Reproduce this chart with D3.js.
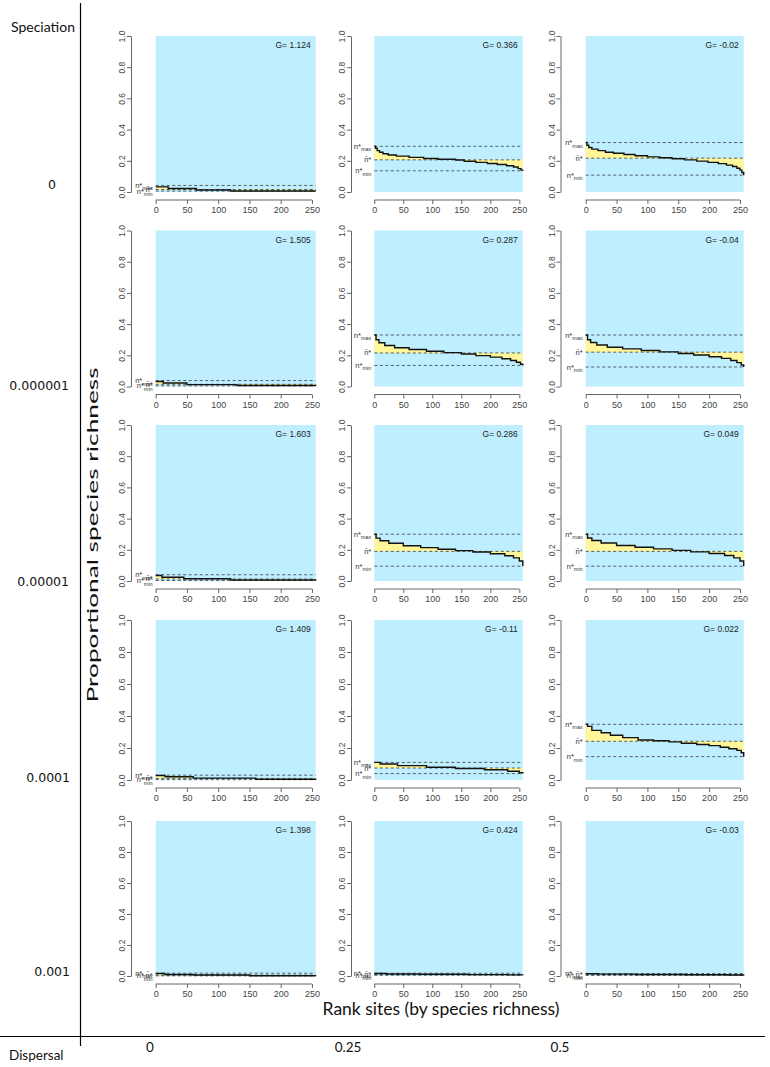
<!DOCTYPE html>
<html><head><meta charset="utf-8">
<script src="https://cdn.jsdelivr.net/npm/d3@7"></script>
<style>body{margin:0;background:#fff}</style></head><body>
<svg id="c" width="770" height="1067"></svg>
<script>
// ---------- data ----------
const speciationLabels = ["0","0.000001","0.00001","0.0001","0.001"];
const dispersalLabels = ["0","0.25","0.5"];
const gValues = ["1.124","0.366","-0.02","1.505","0.287","-0.04","1.603","0.286","0.049","1.409","-0.11","0.022","1.398","0.424","-0.03"];
const maxVals  = [0.042,0.293,0.317, 0.038,0.330,0.330, 0.040,0.300,0.300, 0.030,0.110,0.348, 0.018,0.018,0.016];
const meanVals = [0.016,0.206,0.217, 0.014,0.215,0.220, 0.013,0.190,0.190, 0.010,0.075,0.242, 0.006,0.010,0.009];
const minVals  = [0.006,0.136,0.108, 0.004,0.135,0.125, 0.003,0.095,0.095, 0.002,0.040,0.146, 0.001,0.005,0.004];
// step curves: [rank where level starts, proportional richness]
const curves = [
  [[0,0.033],[20,0.022],[65,0.013],[120,0.006],[256,0.006]],
  [[0,0.293],[2,0.28],[5,0.265],[9,0.255],[15,0.245],[24,0.237],[38,0.23],[60,0.222],[85,0.215],[110,0.21],[140,0.205],[155,0.197],[175,0.19],[195,0.183],[212,0.176],[228,0.168],[240,0.16],[248,0.15],[253,0.14],[256,0.136]],
  [[0,0.317],[2,0.3],[5,0.285],[10,0.275],[20,0.265],[32,0.255],[45,0.248],[62,0.24],[80,0.232],[100,0.225],[120,0.22],[140,0.213],[160,0.206],[180,0.198],[198,0.19],[215,0.182],[228,0.172],[238,0.163],[245,0.152],[250,0.14],[253,0.125],[256,0.108]],
  [[0,0.032],[12,0.022],[50,0.012],[130,0.006],[256,0.004]],
  [[0,0.33],[3,0.3],[8,0.28],[18,0.263],[35,0.248],[60,0.237],[90,0.226],[120,0.217],[150,0.208],[175,0.198],[200,0.188],[220,0.178],[235,0.167],[245,0.155],[252,0.143],[256,0.135]],
  [[0,0.33],[3,0.3],[8,0.282],[18,0.266],[35,0.252],[60,0.241],[90,0.231],[120,0.222],[150,0.212],[175,0.202],[200,0.191],[220,0.18],[235,0.167],[245,0.153],[252,0.138],[256,0.125]],
  [[0,0.035],[10,0.024],[45,0.014],[120,0.006],[256,0.003]],
  [[0,0.3],[3,0.275],[10,0.258],[25,0.242],[50,0.226],[80,0.214],[110,0.204],[140,0.195],[170,0.186],[200,0.175],[225,0.162],[240,0.148],[250,0.128],[256,0.095]],
  [[0,0.3],[3,0.276],[10,0.26],[25,0.244],[50,0.228],[80,0.216],[110,0.206],[140,0.196],[170,0.187],[200,0.176],[225,0.163],[240,0.148],[250,0.128],[256,0.095]],
  [[0,0.028],[15,0.02],[60,0.012],[160,0.005],[256,0.002]],
  [[0,0.11],[10,0.1],[40,0.09],[90,0.08],[140,0.072],[190,0.064],[230,0.055],[250,0.045],[256,0.04]],
  [[0,0.348],[3,0.335],[10,0.31],[25,0.295],[40,0.28],[60,0.265],[85,0.25],[110,0.245],[135,0.238],[155,0.23],[180,0.222],[200,0.215],[218,0.205],[232,0.195],[245,0.185],[252,0.17],[256,0.146]],
  [[0,0.016],[15,0.01],[60,0.006],[150,0.002],[256,0.001]],
  [[0,0.016],[20,0.013],[80,0.011],[160,0.009],[230,0.007],[256,0.005]],
  [[0,0.015],[20,0.012],[80,0.01],[160,0.008],[230,0.006],[256,0.004]]
];
const yTicks = [0,0.2,0.4,0.6,0.8,1.0];
const xTicks = [0,50,100,150,200,250];
const nSites = 256;

// ---------- layout ----------
const cols = [{axis:131,x0:155.7,x1:315.7},{axis:351,x0:374.3,x1:522.8},{axis:560.5,x0:585.7,x1:743.7}];
const rows = [{top:36,bot:192},{top:230.5,bot:386.5},{top:425,bot:581},{top:620,bot:780},{top:821,bot:976}];
const rowLabelRight = [56,69,69,70,70];
const rowLabelBase = [189,390,586,782,976];
const dispersalX = [150,348,560];

const svg = d3.select("#c");
const panelFont = "'Liberation Sans', Arial, sans-serif";

gValues.forEach((g,i)=>{
  const r = Math.floor(i/3), c = i%3;
  const C = cols[c], R = rows[r];
  const x = d3.scaleLinear().domain([0,nSites]).range([C.x0,C.x1]);
  const y = d3.scaleLinear().domain([0,1]).range([R.bot,R.top]);
  const gp = svg.append("g").attr("font-family",panelFont);
  gp.append("rect").attr("x",x(0)).attr("y",y(1)).attr("width",x(nSites)-x(0)).attr("height",y(0)-y(1)).attr("fill","#BFEFFF");
  const data = curves[i];
  const area = d3.area().curve(d3.curveStepAfter).x(d=>x(d[0])).y0(y(meanVals[i])).y1(d=>y(d[1]));
  gp.append("path").attr("d",area(data)).attr("fill","#FFF59A");
  [maxVals[i],meanVals[i],minVals[i]].forEach(v=>{
    gp.append("line").attr("x1",x(0)).attr("x2",x(nSites)).attr("y1",y(v)).attr("y2",y(v))
      .attr("stroke","#3a3a3a").attr("stroke-width",0.8).attr("stroke-dasharray","3,2.5");
  });
  const line = d3.line().curve(d3.curveStepAfter).x(d=>x(d[0])).y(d=>y(d[1]));
  gp.append("path").attr("d",line(data)).attr("fill","none").attr("stroke","#111").attr("stroke-width",1.4);
  // G label
  gp.append("text").attr("x",x(nSites)-5).attr("y",y(1)+12).attr("text-anchor","end")
    .attr("font-size",8.5).attr("fill","#222").text("G= "+g);
  // n labels
  const lab = (v,main,sub)=>{
    const t = gp.append("text").attr("x",x(0)-3).attr("y",y(v)+2.5).attr("text-anchor","end").attr("font-size",7.5).attr("fill","#333");
    t.append("tspan").text(main);
    if(sub) t.append("tspan").attr("dy",2.5).attr("font-size",5.5).text(sub);
  };
  lab(maxVals[i],"n*","max");
  lab(meanVals[i],"n\u0304*",null);
  lab(minVals[i],"n*","min");
  // y axis
  const ya = gp.append("g").attr("transform",`translate(${C.axis},0)`)
    .call(d3.axisLeft(y).tickValues(yTicks).tickFormat(d3.format(".1f")).tickSize(4).tickSizeOuter(0));
  ya.selectAll("text").attr("x",0).attr("dy",0).attr("text-anchor","middle")
    .attr("transform","translate(-6,0) rotate(-90)").attr("font-size",8.5).attr("fill","#444").attr("font-family",panelFont);
  ya.selectAll("path,line").attr("stroke","#666");
  // x axis
  const xa = gp.append("g").attr("transform",`translate(0,${R.bot+8})`)
    .call(d3.axisBottom(x).tickValues(xTicks).tickSize(4).tickSizeOuter(0));
  xa.select(".domain").remove();
  xa.append("line").attr("x1",x(xTicks[0])).attr("x2",x(xTicks[xTicks.length-1])).attr("stroke","#666");
  xa.selectAll("line").attr("stroke","#666");
  xa.selectAll("text").attr("font-size",9).attr("fill","#444").attr("font-family",panelFont);
});

// frame lines
svg.append("line").attr("x1",80.5).attr("x2",80.5).attr("y1",3).attr("y2",1046).attr("stroke","#000").attr("stroke-width",1.2);
svg.append("line").attr("x1",0).attr("x2",765).attr("y1",1036.5).attr("y2",1036.5).attr("stroke","#000").attr("stroke-width",1.2);

const outerFont = "Lato, 'Open Sans', sans-serif";
svg.append("text").attr("x",11).attr("y",32).attr("font-family",outerFont).attr("font-size",14).attr("fill","#111").text("Speciation");
svg.append("text").attr("x",9).attr("y",1060).attr("font-family",outerFont).attr("font-size",13.5).attr("fill","#111").text("Dispersal");
speciationLabels.forEach((s,i)=>{
  svg.append("text").attr("x",rowLabelRight[i]).attr("y",rowLabelBase[i]).attr("text-anchor","end")
    .attr("font-family","'DejaVu Sans', sans-serif").attr("font-size",12.5).attr("fill","#111").text(s);
});
dispersalLabels.forEach((s,i)=>{
  svg.append("text").attr("x",dispersalX[i]).attr("y",1052).attr("text-anchor","middle")
    .attr("font-family",outerFont).attr("font-size",13.5).attr("fill","#111").text(s);
});
svg.append("text").attr("x",441).attr("y",1015).attr("text-anchor","middle").attr("font-family",outerFont)
  .attr("font-size",17.5).attr("fill","#111").text("Rank sites (by species richness)");
svg.append("text").attr("transform","translate(98,535) rotate(-90)").attr("text-anchor","middle").attr("font-family",outerFont)
  .attr("font-size",15).attr("textLength",335).attr("lengthAdjust","spacingAndGlyphs").attr("fill","#111").text("Proportional species richness");
</script></body></html>
